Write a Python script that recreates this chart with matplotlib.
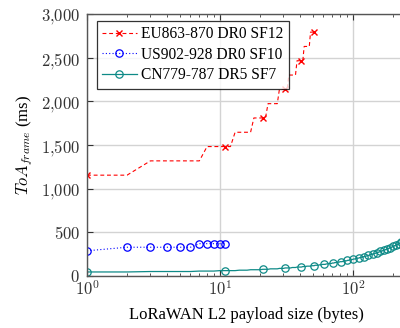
import numpy as np
import matplotlib
matplotlib.use("Agg")
import matplotlib.pyplot as plt
from matplotlib.ticker import FuncFormatter, LogLocator, NullFormatter

plt.rcParams['font.family'] = ['Liberation Serif', 'DejaVu Serif']
plt.rcParams['mathtext.fontset'] = 'cm'

# EU863-870 DR0 SF12: payload 1..51 bytes
eu_x = list(range(1, 52))
eu_y = [1155.1, 1155.1,
        1318.9, 1318.9, 1318.9, 1318.9, 1318.9,
        1482.8, 1482.8, 1482.8, 1482.8, 1482.8,
        1646.6, 1646.6, 1646.6, 1646.6, 1646.6,
        1810.4, 1810.4, 1810.4, 1810.4, 1810.4,
        1974.3, 1974.3, 1974.3, 1974.3, 1974.3,
        2138.1, 2138.1, 2138.1, 2138.1, 2138.1,
        2301.9, 2301.9, 2301.9, 2301.9, 2301.9,
        2465.8, 2465.8, 2465.8, 2465.8, 2465.8,
        2629.6, 2629.6, 2629.6, 2629.6, 2629.6,
        2793.5, 2793.5, 2793.5, 2793.5]

# US902-928 DR0 SF10: payload 1..11 bytes
us_x = list(range(1, 12))
us_y = [288.8, 329.7, 329.7, 329.7, 329.7, 329.7, 370.7, 370.7, 370.7, 370.7, 370.7]

# CN779-787 DR5 SF7: payload 1..250 bytes, plateau values and lengths
cn_levels = [46.34, 51.46, 56.58, 61.70, 66.82, 71.94, 77.06, 82.18, 87.30, 92.42,
             97.54, 102.66, 107.78, 112.90, 118.02, 123.14, 128.26, 133.38, 138.50, 143.62,
             148.74, 153.86, 158.98, 164.10, 169.22, 174.34, 179.46, 184.58, 189.70, 194.82,
             199.94, 205.06, 210.18, 215.30, 220.42, 225.54, 230.66, 235.78, 240.90, 246.02,
             251.14, 256.26, 261.38, 266.50, 271.62, 276.74, 281.86, 286.98, 292.10, 297.22,
             302.34, 307.46, 312.58, 317.70, 322.82, 327.94, 333.06, 338.18, 343.30, 348.42,
             353.54, 358.66, 363.78, 368.90, 374.02, 379.14, 384.26, 389.38, 394.50, 399.62,
             404.74, 409.86]
cn_lengths = [2, 4, 3, 4, 3, 4, 3, 4, 3, 4,
              3, 4, 3, 4, 3, 4, 3, 4, 3, 4,
              3, 4, 3, 4, 3, 4, 3, 4, 3, 4,
              3, 4, 3, 4, 3, 4, 3, 4, 3, 4,
              3, 4, 3, 4, 3, 4, 3, 4, 3, 4,
              3, 4, 3, 4, 3, 4, 3, 4, 3, 4,
              3, 4, 3, 4, 3, 4, 3, 4, 3, 4,
              3, 3]
cn_y = np.repeat(cn_levels, cn_lengths)
cn_x = np.arange(1, len(cn_y) + 1)

labels = ['EU863-870 DR0 SF12', 'US902-928 DR0 SF10', 'CN779-787 DR5 SF7']
y_ticks = [0, 500, 1000, 1500, 2000, 2500, 3000]

fig = plt.figure(figsize=(4.0, 3.28), dpi=100)
ax = fig.add_axes([0.2175, 0.1585, 0.797, 0.7985])

ax.plot(eu_x, eu_y, color='red', linestyle=(0, (3.5, 2.5)), linewidth=0.8,
        marker='x', markevery=10, markersize=4.5, markeredgewidth=1.0, label=labels[0])
ax.plot(us_x, us_y, color='blue', linestyle=(0, (1, 2)), linewidth=0.8,
        marker='o', markersize=5.3, markerfacecolor='none', markeredgewidth=0.9, label=labels[1])
ax.plot(cn_x, cn_y, color='#0e8a87', linestyle='-', linewidth=0.9,
        marker='o', markevery=10, markersize=5.3, markerfacecolor='none', markeredgewidth=0.9,
        label=labels[2])

ax.set_xscale('log')
ax.set_xlim(1, 250)
ax.set_ylim(0, 3000)
ax.set_yticks(y_ticks)
ax.yaxis.set_major_formatter(FuncFormatter(lambda v, p: "$" + f"{int(v):,}".replace(",", "{,}") + "$"))
ax.xaxis.set_major_locator(LogLocator(base=10, numticks=10))
ax.xaxis.set_minor_locator(LogLocator(base=10, subs=np.arange(2, 10), numticks=20))
ax.xaxis.set_minor_formatter(NullFormatter())
ax.xaxis.set_major_formatter(FuncFormatter(lambda v, p: r"$10^{%d}$" % int(round(np.log10(v)))))

ax.grid(True, which='major', color='#d3d3d3', linewidth=1.0)
ax.set_axisbelow(True)
ax.tick_params(which='both', direction='in', top=True, right=True, labelsize=12, colors='#333333')
ax.tick_params(which='major', length=4)
ax.tick_params(which='minor', length=2.5)
ax.tick_params(axis='y', pad=5)
ax.tick_params(axis='x', pad=3)
for s in ax.spines.values():
    s.set_color('#555555')
    s.set_linewidth(1.0)

ax.set_xlabel('LoRaWAN L2 payload size (bytes)', fontsize=12, labelpad=6)
ax.set_ylabel(r'$ToA_{frame}$ (ms)', fontsize=12, labelpad=4)

leg = ax.legend(loc='upper left', bbox_to_anchor=(0.031, 0.975), borderaxespad=0,
                fontsize=11.2, frameon=True, fancybox=False, edgecolor='black',
                handlelength=2.2, handletextpad=0.3, labelspacing=0.3, borderpad=0.35)
leg.get_frame().set_linewidth(0.9)

fig.savefig('out.png', dpi=100)
